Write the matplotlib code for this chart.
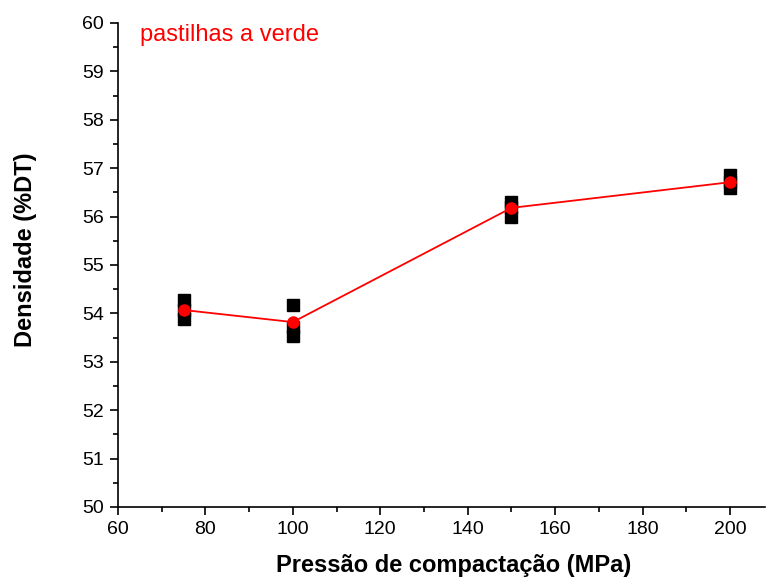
import matplotlib
matplotlib.use("Agg")
import matplotlib.pyplot as plt
from matplotlib.ticker import MultipleLocator

plt.rcParams['font.family'] = ['Liberation Sans', 'DejaVu Sans']

# individual measurements per compaction pressure
pressao_ind = [75, 75, 75, 100, 100, 100, 150, 150, 150, 200, 200, 200]
densidade_ind = [54.28, 54.06, 53.88, 54.18, 53.72, 53.53,
                 56.30, 56.20, 56.00, 56.86, 56.72, 56.60]

# mean values
pressao_med = [75, 100, 150, 200]
densidade_med = [54.07, 53.82, 56.18, 56.71]

fig = plt.figure(figsize=(7.67, 5.79), dpi=100)
ax = fig.add_axes([0.1538, 0.1244, 0.8436, 0.8359])

ax.plot(pressao_ind, densidade_ind, 's', color='black', markersize=8, zorder=2)
ax.plot(pressao_med, densidade_med, '-o', color='red', markersize=8,
        linewidth=1.3, zorder=3)

ax.set_xlim(60, 208)
ax.set_ylim(50, 60)
ax.xaxis.set_major_locator(MultipleLocator(20))
ax.xaxis.set_minor_locator(MultipleLocator(10))
ax.yaxis.set_major_locator(MultipleLocator(1))
ax.yaxis.set_minor_locator(MultipleLocator(0.5))

for side in ('top', 'right'):
    ax.spines[side].set_visible(False)
for side in ('left', 'bottom'):
    ax.spines[side].set_linewidth(1.2)

ax.tick_params(which='major', direction='out', length=6, width=1.2,
               labelsize=14, pad=4)
ax.tick_params(which='minor', direction='out', length=3.5, width=1.2)

ax.set_xlabel('Pressão de compactação (MPa)', fontsize=17, fontweight='bold')
ax.set_ylabel('Densidade (%DT)', fontsize=17, fontweight='bold')
ax.xaxis.set_label_coords(0.518, -0.098)
ax.yaxis.set_label_coords(-0.125, 0.531)

ax.text(0.1825, 0.929, 'pastilhas a verde', transform=fig.transFigure,
        color='red', fontsize=17, va='baseline', ha='left')

fig.savefig('out.png', dpi=100)
